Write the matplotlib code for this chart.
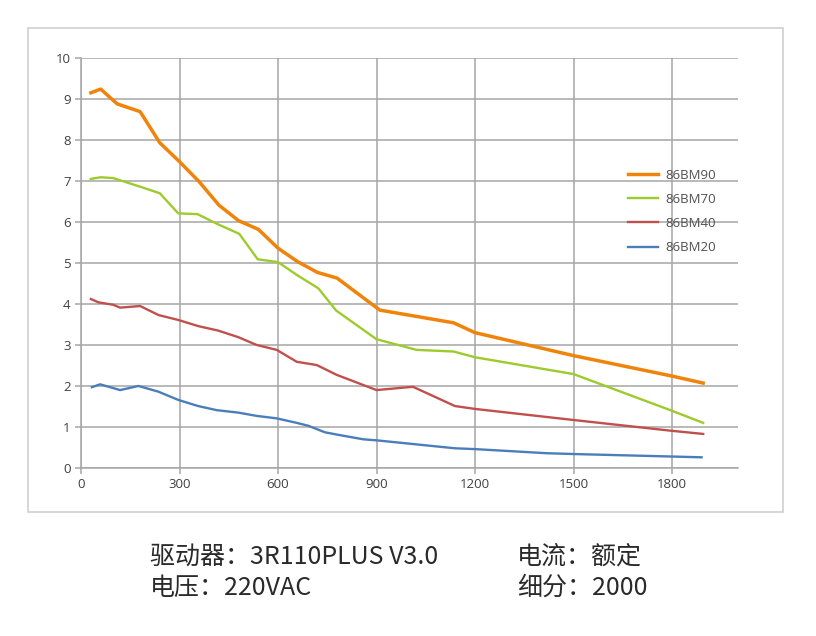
import matplotlib.pyplot as plt
from matplotlib.patches import Rectangle

# speed (rpm) vs torque (N.m) readings for each motor
x_90 = [30, 60, 110, 180, 240, 300, 360, 420, 480, 540, 600, 660, 720, 780, 910, 1135, 1200, 1500, 1795, 1895]
y_90 = [9.15, 9.24, 8.88, 8.69, 7.93, 7.47, 6.98, 6.41, 6.03, 5.82, 5.36, 5.03, 4.77, 4.63, 3.85, 3.54, 3.30, 2.74, 2.25, 2.07]

x_70 = [30, 60, 98, 180, 240, 296, 355, 418, 482, 538, 600, 657, 723, 777, 900, 1022, 1135, 1200, 1500, 1795, 1895]
y_70 = [7.05, 7.09, 7.07, 6.86, 6.70, 6.21, 6.19, 5.94, 5.71, 5.09, 5.02, 4.71, 4.38, 3.84, 3.14, 2.88, 2.84, 2.70, 2.29, 1.41, 1.10]

x_40 = [30, 53, 98, 119, 180, 236, 296, 357, 418, 479, 535, 596, 657, 718, 779, 900, 1011, 1139, 1200, 1500, 1795, 1895]
y_40 = [4.12, 4.04, 3.98, 3.91, 3.95, 3.73, 3.61, 3.46, 3.35, 3.19, 3.00, 2.88, 2.59, 2.51, 2.27, 1.90, 1.98, 1.51, 1.44, 1.17, 0.91, 0.83]

x_20 = [33, 58, 93, 119, 175, 236, 296, 357, 413, 479, 535, 596, 657, 692, 743, 789, 859, 905, 1139, 1200, 1418, 1500, 1795, 1890]
y_20 = [1.97, 2.04, 1.96, 1.90, 2.00, 1.86, 1.66, 1.51, 1.41, 1.35, 1.27, 1.21, 1.10, 1.03, 0.87, 0.80, 0.70, 0.67, 0.48, 0.46, 0.36, 0.34, 0.28, 0.26]

x_ticks = [0, 300, 600, 900, 1200, 1500, 1800]
y_ticks = list(range(0, 11))

plt.rcParams['font.family'] = ['Open Sans', 'DejaVu Sans']

fig = plt.figure(figsize=(8.16, 6.36), dpi=100)
ax = fig.add_axes([0.0993, 0.2642, 0.8047, 0.6447])

# light frame around the chart area
fig.patches.append(Rectangle((28 / 816, 1 - 512 / 636), 755 / 816, 484 / 636,
                             transform=fig.transFigure, fill=False,
                             edgecolor='#d0d0d0', linewidth=1.2))

ax.plot(x_90, y_90, color='#f08309', lw=2.5, label='86BM90')
ax.plot(x_70, y_70, color='#9dcb2b', lw=1.7, label='86BM70')
ax.plot(x_40, y_40, color='#c0504d', lw=1.7, label='86BM40')
ax.plot(x_20, y_20, color='#4a7ebb', lw=1.7, label='86BM20')

ax.set_xlim(0, 2000)
ax.set_ylim(0, 10)
ax.set_xticks(x_ticks)
ax.set_yticks(y_ticks)
ax.grid(True, color='#a6a6a6', lw=1.1)
ax.set_axisbelow(True)
for s in ['top', 'right']:
    ax.spines[s].set_visible(False)
for s in ['left', 'bottom']:
    ax.spines[s].set_color('#a6a6a6')
    ax.spines[s].set_linewidth(1.1)
ax.tick_params(colors='#a6a6a6', labelcolor='#404040', labelsize=9.5, length=4, width=1.1)

leg = ax.legend(loc='upper left', bbox_to_anchor=(0.815, 0.759), frameon=False,
                fontsize=9.5, handlelength=2.3, labelspacing=0.85, handletextpad=0.55)
for t in leg.get_texts():
    t.set_color('#505050')

cjk = ['Noto Sans CJK SC', 'DejaVu Sans']
fs = 18
fig.text(150 / 816, 1 - 557 / 636, '驱动器：3R110PLUS V3.0', family=cjk, fontsize=fs, color='#2a2a2a', va='center')
fig.text(517 / 816, 1 - 557 / 636, '电流：额定', family=cjk, fontsize=fs, color='#2a2a2a', va='center')
fig.text(150 / 816, 1 - 588 / 636, '电压：220VAC', family=cjk, fontsize=fs, color='#2a2a2a', va='center')
fig.text(517 / 816, 1 - 588 / 636, '细分：2000', family=cjk, fontsize=fs, color='#2a2a2a', va='center')

fig.savefig('out.png', dpi=100)
